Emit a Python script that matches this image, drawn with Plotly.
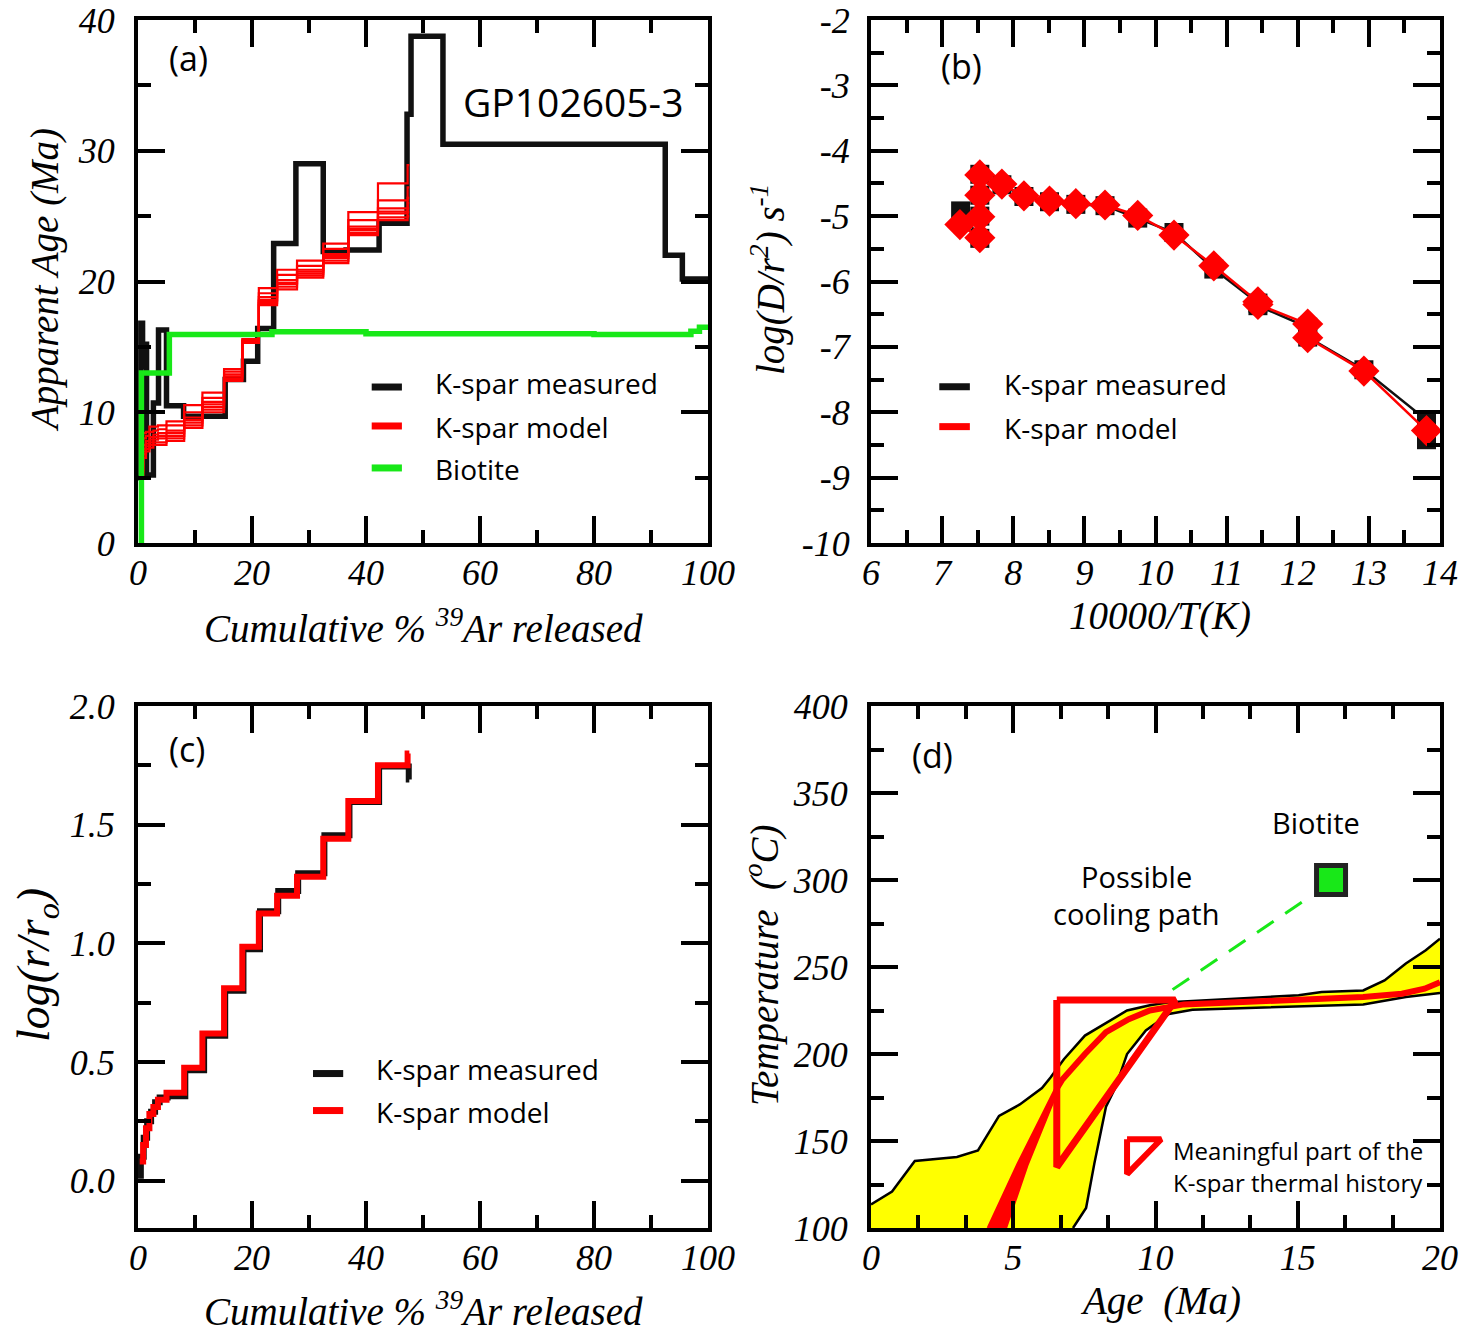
import plotly.graph_objects as go

# ---------------- data ----------------
# (a) Age spectrum: K-spar measured (cumulative % 39Ar step edges, apparent age Ma)
meas_edges_a = [0.0, 0.5, 0.8, 1.1, 1.5, 2.7, 3.6, 5.0, 8.0, 15.3, 18.5, 21.0, 23.8, 27.7,
                32.5, 36.5, 42.3, 47.2, 47.9, 53.5, 92.5, 95.5, 100.0]
meas_age_a = [5.0, 16.8, 13.5, 15.2, 5.2, 10.7, 16.3, 10.5, 9.7, 12.5, 13.9, 16.4, 22.9, 29.0,
              22.3, 22.4, 24.45, 32.8, 38.75, 30.5, 22.0, 20.2]

# K-spar model step edges (shared by (a) and (c))
model_edges = [0.3, 0.9, 1.4, 2.0, 2.7, 3.5, 5.0, 8.1, 11.3, 15.1, 18.3, 21.2, 24.4, 27.9,
               32.5, 36.9, 42.1, 47.3, 47.6]
model_age_run1 = [5.0, 6.5, 7.0, 7.3, 7.5, 7.5, 7.8, 8.8, 10.0, 12.4, 15.3, 18.2, 19.4, 20.3,
                  21.4, 23.55, 24.7, 25.0]
model_age_run2 = [5.1, 6.8, 7.2, 7.5, 7.7, 7.7, 8.0, 9.0, 10.2, 12.5, 15.35, 18.35, 19.6, 20.45,
                  21.6, 23.7, 24.9, 25.3]
model_age_run3 = [5.3, 7.0, 7.4, 7.7, 7.9, 8.0, 8.2, 9.2, 10.4, 12.6, 15.4, 18.5, 19.8, 20.6,
                  21.8, 23.9, 25.2, 25.6]
model_age_run4 = [5.45, 7.2, 7.6, 7.9, 8.1, 8.2, 8.4, 9.4, 10.6, 12.75, 15.4, 18.6, 19.9, 20.75,
                  21.95, 24.0, 25.35, 26.0]
model_age_run5 = [5.6, 7.5, 7.8, 8.1, 8.3, 8.4, 8.6, 9.6, 10.8, 12.9, 15.45, 18.8, 20.1, 20.9,
                  22.1, 24.2, 25.6, 26.4]
model_age_run6 = [5.8, 8.0, 8.2, 8.5, 8.6, 8.7, 9.0, 10.0, 11.1, 13.1, 15.5, 19.1, 20.5, 21.2,
                  22.5, 24.7, 26.2, 27.2]
model_age_run7 = [6.0, 8.4, 8.5, 8.9, 8.9, 9.0, 9.3, 10.55, 11.5, 13.3, 15.6, 19.5, 20.9, 21.6,
                  22.9, 25.3, 27.5, 28.9]

# Biotite spectrum
biot_edges = [0.5, 0.6, 5.5, 23.5, 40.0, 80.0, 97.0, 98.5, 100.0]
biot_age = [0.0, 13.0, 15.95, 16.15, 16.0, 15.95, 16.2, 16.5]

# (b) Arrhenius plot
arr_meas_x = [13.81, 13.81, 12.93, 12.14, 12.14, 11.44, 11.44, 10.82, 10.26, 9.75, 9.29, 8.88,
              8.51, 8.15, 7.84, 7.53, 7.53, 7.53, 7.53, 7.26]
arr_meas_y = [-8.42, -8.12, -7.35, -6.85, -6.70, -6.37, -6.33, -5.81, -5.25, -5.03, -4.84, -4.82,
              -4.78, -4.70, -4.52, -4.36, -4.68, -5.00, -5.34, -4.92]
arr_model_x = [13.81, 12.93, 12.14, 12.14, 11.44, 11.44, 10.82, 10.26, 9.75, 9.29, 8.88, 8.51,
               8.15, 7.84, 7.53, 7.53, 7.53, 7.53, 7.25]
arr_model_y = [-8.28, -7.37, -6.86, -6.65, -6.35, -6.31, -5.76, -5.29, -4.99, -4.83, -4.81, -4.77,
               -4.69, -4.51, -4.37, -4.68, -5.01, -5.33, -5.13]

# (c) log(r/ro) plot
logr_model = [0.08, 0.15, 0.22, 0.28, 0.31, 0.34, 0.37, 0.475, 0.62, 0.81, 0.985, 1.125, 1.20,
              1.28, 1.44, 1.60, 1.75, 1.80]
meas_edges_c = [0.0, 0.5, 1.0, 1.6, 2.3, 3.0, 3.8, 5.2, 8.3, 11.6, 15.3, 18.5, 21.4, 24.6, 28.1,
                32.7, 37.1, 42.3, 47.5, 47.6]
logr_meas = [0.02, 0.10, 0.18, 0.25, 0.29, 0.33, 0.35, 0.355, 0.465, 0.61, 0.80, 0.975, 1.135,
             1.22, 1.295, 1.455, 1.595, 1.745, 1.69]

# (d) thermal history
env_upper_age = [0.0, 0.74, 1.54, 3.02, 3.76, 4.5, 5.23, 6.01, 6.31, 6.78, 7.52, 8.26, 9.0, 9.8,
                 10.47, 15.03, 15.84, 17.3, 18.05, 18.8, 19.5, 20.0]
env_upper_T = [113.5, 121, 138.5, 140.8, 144.6, 164.4, 171, 180.4, 186.5, 197, 210.6, 218, 225,
               228, 229.8, 233.7, 235.6, 236.5, 242.3, 252, 259.6, 266.3]
env_lower_age = [7.1, 7.56, 7.85, 8.26, 8.6, 9.0, 9.66, 10.47, 11.3, 17.3, 18.8, 20.0]
env_lower_T = [100, 111.5, 137, 169.7, 181, 200, 213.5, 223, 225.4, 228.5, 232.7, 235]
band_left_age = [4.1, 5.15, 5.98, 6.5]
band_left_T = [100, 137, 164, 181]
band_right_age = [4.75, 5.5, 6.2, 6.62]
band_right_T = [100, 136, 164, 181]
red_mean_age = [6.56, 6.71, 7.52, 8.26, 9.06, 9.8, 11.0, 15.03, 17.3, 18.66, 19.46, 20.0]
red_mean_T = [181, 185, 200, 212.5, 220, 225, 228.5, 230.8, 232.7, 234.6, 237.5, 241.3]
tri_age = [6.53, 10.7, 6.53, 6.53]
tri_T = [231, 231, 135, 231]
leg_tri_age = [9.0, 10.2, 9.0, 9.0]
leg_tri_T = [151, 151, 131, 151]
cool_age = [10.6, 15.3]
cool_T = [237, 289]
biot_pt_age = [16.17]
biot_pt_T = [300]

# ---------------- styling ----------------
W, H = 1478, 1337
BLACK = '#111111'
RED = '#ff0000'
GREEN = '#18e818'
YELLOW = '#ffff00'
SERIF = 'Liberation Serif'
SANS = 'Open Sans'


def px(x):
    return x / W


def py(y):
    return 1 - y / H


def step(edges, vals):
    return list(edges), list(vals) + [vals[-1]]


fig = go.Figure()

# ---- (a)
x, y = step(meas_edges_a, meas_age_a)
fig.add_trace(go.Scatter(x=x, y=y, mode='lines', line=dict(shape='hv', color=BLACK, width=5.5),
                         xaxis='x', yaxis='y', showlegend=False))
for run in [model_age_run1, model_age_run2, model_age_run3, model_age_run4, model_age_run5,
            model_age_run6, model_age_run7]:
    x, y = step(model_edges, run)
    fig.add_trace(go.Scatter(x=x, y=y, mode='lines', line=dict(shape='hv', color=RED, width=2.2),
                             xaxis='x', yaxis='y', showlegend=False))
x, y = step(biot_edges, biot_age)
fig.add_trace(go.Scatter(x=x, y=y, mode='lines', line=dict(shape='hv', color=GREEN, width=5.5),
                         xaxis='x', yaxis='y', showlegend=False))

# ---- (b)
fig.add_trace(go.Scatter(x=arr_meas_x, y=arr_meas_y, mode='lines+markers',
                         line=dict(color=BLACK, width=2.5),
                         marker=dict(symbol='square', size=19, color=BLACK),
                         xaxis='x2', yaxis='y2', showlegend=False))
fig.add_trace(go.Scatter(x=arr_model_x, y=arr_model_y, mode='lines+markers',
                         line=dict(color=RED, width=2.5),
                         marker=dict(symbol='diamond', size=24, color=RED),
                         xaxis='x2', yaxis='y2', showlegend=False))

# ---- (c)
x, y = step(meas_edges_c, logr_meas)
fig.add_trace(go.Scatter(x=x, y=y, mode='lines', line=dict(shape='hv', color=BLACK, width=6),
                         xaxis='x3', yaxis='y3', showlegend=False))
x, y = step(model_edges, logr_model)
fig.add_trace(go.Scatter(x=x, y=y, mode='lines', line=dict(shape='hv', color=RED, width=6),
                         xaxis='x3', yaxis='y3', showlegend=False))

# ---- (d)
poly_x = env_upper_age + env_lower_age[::-1] + [env_upper_age[0]]
poly_y = env_upper_T + env_lower_T[::-1] + [env_lower_T[0]]
fig.add_trace(go.Scatter(x=poly_x, y=poly_y, mode='lines', fill='toself', fillcolor=YELLOW,
                         line=dict(width=0), xaxis='x4', yaxis='y4', showlegend=False))
fig.add_trace(go.Scatter(x=env_upper_age, y=env_upper_T, mode='lines',
                         line=dict(color='black', width=2.5), xaxis='x4', yaxis='y4', showlegend=False))
fig.add_trace(go.Scatter(x=env_lower_age, y=env_lower_T, mode='lines',
                         line=dict(color='black', width=2.5), xaxis='x4', yaxis='y4', showlegend=False))
band_x = band_left_age + band_right_age[::-1]
band_y = band_left_T + band_right_T[::-1]
fig.add_trace(go.Scatter(x=band_x, y=band_y, mode='lines', fill='toself', fillcolor=RED,
                         line=dict(color=RED, width=2), xaxis='x4', yaxis='y4', showlegend=False))
fig.add_trace(go.Scatter(x=red_mean_age, y=red_mean_T, mode='lines',
                         line=dict(color=RED, width=6), xaxis='x4', yaxis='y4', showlegend=False))
fig.add_trace(go.Scatter(x=tri_age, y=tri_T, mode='lines',
                         line=dict(color=RED, width=7), xaxis='x4', yaxis='y4', showlegend=False))
fig.add_trace(go.Scatter(x=leg_tri_age, y=leg_tri_T, mode='lines',
                         line=dict(color=RED, width=6), xaxis='x4', yaxis='y4', showlegend=False,
                         cliponaxis=False))
fig.add_trace(go.Scatter(x=cool_age, y=cool_T, mode='lines',
                         line=dict(color=GREEN, width=3, dash='20px,14px'),
                         xaxis='x4', yaxis='y4', showlegend=False))
fig.add_trace(go.Scatter(x=biot_pt_age, y=biot_pt_T, mode='markers',
                         marker=dict(symbol='square', size=29, color=GREEN,
                                     line=dict(color='#222222', width=5)),
                         xaxis='x4', yaxis='y4', showlegend=False))

# ---------------- axes ----------------
tickfont = dict(family=SERIF, size=36, color='black', style='italic')


def axis(domain, rng, dtick, minor_dtick, anchor, standoff, tickvals=None, ticktext=None,
         tickformat=None):
    d = dict(domain=domain, range=rng, anchor=anchor, automargin=False, showline=True,
             linewidth=4, linecolor='black', mirror='allticks', ticks='inside', ticklen=27,
             tickwidth=4, tickcolor='black', showgrid=False, zeroline=False, tickfont=tickfont,
             ticklabelstandoff=standoff, dtick=dtick, tick0=0,
             minor=dict(ticks='inside', ticklen=13, tickwidth=4, tickcolor='black',
                        dtick=minor_dtick, tick0=0, showgrid=False))
    if tickvals is not None:
        d['tickmode'] = 'array'
        d['tickvals'] = tickvals
        d['ticktext'] = ticktext
    if tickformat:
        d['tickformat'] = tickformat
    return d


xa = [px(138), px(708)]
xb = [px(871), px(1440)]
ytop = [py(543), py(20)]
ybot = [py(1228), py(706)]

b_vals = [-10, -9, -8, -7, -6, -5, -4, -3, -2]
b_text = ['-10', '-9', '-8', '-7', '-6', '-5', '-4', '-3', '-2']

fig.update_layout(
    width=W, height=H, margin=dict(l=0, r=0, t=0, b=0, autoexpand=False),
    paper_bgcolor='white', plot_bgcolor='white', showlegend=False,
    xaxis=axis(xa, [0, 100], 20, 10, 'y', -5),
    yaxis=axis(ytop, [0, 40], 10, 5, 'x', 12),
    xaxis2=axis(xb, [6, 14], 1, 0.5, 'y2', -5),
    yaxis2=axis(ytop, [-10, -2], 1, 0.5, 'x2', 10, tickvals=b_vals, ticktext=b_text),
    xaxis3=axis(xa, [0, 100], 20, 10, 'y3', -5),
    yaxis3=axis(ybot, [-0.2, 2.0], 0.5, 0.25, 'x3', 12, tickformat='.1f'),
    xaxis4=axis(xb, [0, 20], 5, 5 / 3, 'y4', -5),
    yaxis4=axis(ybot, [100, 400], 50, 25, 'x4', 12),
)

# ---------------- annotations / legend keys ----------------
ann = []
sans = dict(family=SANS, size=28, color='black')
lab = dict(family=SANS, size=34, color='black')


def txt(text, x, y, xref, yref, font, xanchor='center', angle=0):
    ann.append(dict(text=text, x=x, y=y, xref=xref, yref=yref, showarrow=False, font=font,
                    xanchor=xanchor, yanchor='middle', textangle=angle))


# panel labels
txt('(a)', 8.8, 37.1, 'x', 'y', lab)
txt('GP102605-3', 76.3, 33.8, 'x', 'y', dict(family=SANS, size=39, color='black'))
txt('(b)', 7.27, -2.70, 'x2', 'y2', lab)
txt('(c)', 8.6, 1.82, 'x3', 'y3', lab)
txt('(d)', 2.15, 371.8, 'x4', 'y4', lab)

# legends
shapes = []


def key(x0, x1, y, xr, yr, color):
    shapes.append(dict(type='line', x0=x0, x1=x1, y0=y, y1=y, xref=xr, yref=yr,
                       line=dict(color=color, width=7)))


key(41.0, 46.3, 11.93, 'x', 'y', BLACK)
key(41.0, 46.3, 8.95, 'x', 'y', RED)
key(41.0, 46.3, 5.74, 'x', 'y', GREEN)
txt('K-spar measured', 51.7, 12.2, 'x', 'y', sans, 'left')
txt('K-spar model', 51.7, 8.85, 'x', 'y', sans, 'left')
txt('Biotite', 51.7, 5.65, 'x', 'y', sans, 'left')

key(6.96, 7.39, -7.61, 'x2', 'y2', BLACK)
key(6.96, 7.39, -8.22, 'x2', 'y2', RED)
txt('K-spar measured', 7.84, -7.57, 'x2', 'y2', sans, 'left')
txt('K-spar model', 7.84, -8.24, 'x2', 'y2', sans, 'left')

key(30.7, 36.0, 0.451, 'x3', 'y3', BLACK)
key(30.7, 36.0, 0.295, 'x3', 'y3', RED)
txt('K-spar measured', 41.4, 0.47, 'x3', 'y3', sans, 'left')
txt('K-spar model', 41.4, 0.287, 'x3', 'y3', sans, 'left')

# (d) texts
dtxt = dict(family=SANS, size=29, color='black')
txt('Biotite', 15.63, 333.3, 'x4', 'y4', dtxt)
txt('Possible', 9.33, 302.3, 'x4', 'y4', dtxt)
txt('cooling path', 9.33, 281.0, 'x4', 'y4', dtxt)
small = dict(family=SANS, size=24, color='black')
txt('Meaningful part of the', 10.56, 144.8, 'x4', 'y4', small, 'left')
txt('K-spar thermal history', 10.56, 125.9, 'x4', 'y4', small, 'left')

# axis titles
tf = dict(family=SERIF, size=39, color='black', style='italic')
txt('Apparent Age (Ma)', px(45), py(280), 'paper', 'paper', tf, angle=-90)
txt('Cumulative % <sup>39</sup>Ar released', px(423), py(626), 'paper', 'paper', tf)
txt('log(D/r<sup>2</sup>) s<sup>-1</sup>', px(768), py(280), 'paper', 'paper', tf, angle=-90)
txt('10000/T(K)', px(1160), py(616), 'paper', 'paper', tf)
txt('log(r/r<sub>o</sub>)', px(37), py(965), 'paper', 'paper',
    dict(family=SERIF, size=46, color='black', style='italic'), angle=-90)
txt('Cumulative % <sup>39</sup>Ar released', px(423), py(1309), 'paper', 'paper', tf)
txt('Temperature  (<sup>o</sup>C)', px(762), py(965), 'paper', 'paper', tf, angle=-90)
txt('Age  (Ma)', px(1160), py(1301), 'paper', 'paper', tf)

fig.update_layout(annotations=ann, shapes=shapes)

fig.write_html('out.html')
